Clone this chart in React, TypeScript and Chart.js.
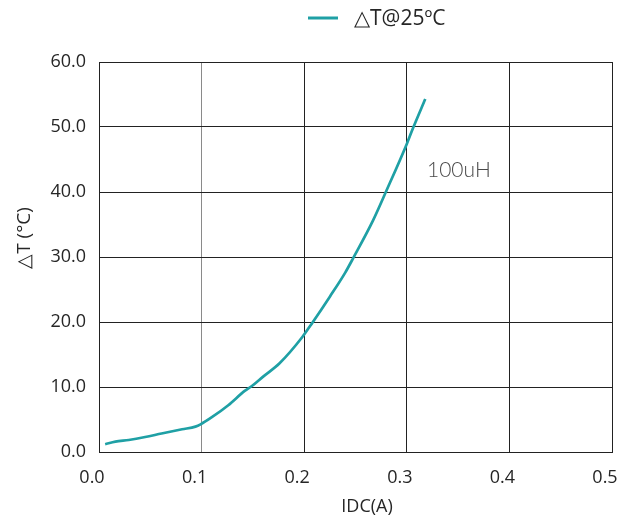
import React, { useEffect, useRef } from "react";
import { Chart, registerables } from "chart.js";

Chart.register(...registerables);

// Series data
const currentA = [
  0.006, 0.016, 0.029, 0.045, 0.061, 0.081, 0.094, 0.099, 0.11, 0.126, 0.142,
  0.149, 0.16, 0.176, 0.198, 0.208, 0.225, 0.24, 0.248, 0.267, 0.28, 0.3,
  0.306, 0.318,
];
const deltaT = [
  1.2, 1.6, 1.85, 2.3, 2.85, 3.5, 3.9, 4.25, 5.35, 7.2, 9.4, 10.15, 11.6, 13.65,
  17.65, 19.9, 23.9, 27.6, 29.9, 35.6, 40.15, 47.4, 49.8, 54.3,
];

const xTicks = [0, 0.1, 0.2, 0.3, 0.4, 0.5];
const yTicks = [0, 10, 20, 30, 40, 50, 60];

const seriesLabel = "△T@25ºC";
const xTitle = "IDC(A)";
const yTitle = "△T (°C)";
const noteText = "100uH";

const TEAL = "#1fa0a5";
const INK = "#262626";
const GRID = "#222222";

export default function App() {
  const ref = useRef<HTMLCanvasElement>(null);

  useEffect(() => {
    document.body.style.margin = "0";
    const canvas = ref.current;
    if (!canvas) return;

    const overlay = {
      id: "overlay",
      afterDraw(chart: any) {
        const ctx = chart.ctx as CanvasRenderingContext2D;
        ctx.save();
        // legend
        ctx.strokeStyle = TEAL;
        ctx.lineWidth = 3;
        ctx.beginPath();
        ctx.moveTo(308, 18);
        ctx.lineTo(338, 18);
        ctx.stroke();
        ctx.fillStyle = INK;
        ctx.font = '21px "Open Sans"';
        ctx.textAlign = "left";
        ctx.textBaseline = "middle";
        ctx.fillText(seriesLabel, 354, 19);

        // x title
        ctx.font = '18px "Open Sans"';
        ctx.textAlign = "center";
        ctx.textBaseline = "middle";
        ctx.fillText(xTitle, 367, 507);

        // y title
        ctx.save();
        ctx.translate(25, 238);
        ctx.rotate(-Math.PI / 2);
        ctx.font = '19px "Open Sans"';
        ctx.fillText(yTitle, 0, 0);
        ctx.restore();

        // annotation
        ctx.fillStyle = "#4a4a4a";
        ctx.font = '300 21px "Lato"';
        ctx.textAlign = "left";
        ctx.fillText(noteText, 427, 170);
        ctx.restore();
      },
    };

    const chart = new Chart(canvas, {
      type: "line",
      data: {
        datasets: [
          {
            label: seriesLabel,
            data: currentA.map((x, i) => ({ x, y: deltaT[i] })),
            borderColor: TEAL,
            backgroundColor: TEAL,
            borderWidth: 2.7,
            pointRadius: 0,
            cubicInterpolationMode: "monotone",
            fill: false,
          },
        ],
      },
      options: {
        animation: false,
        responsive: false,
        maintainAspectRatio: false,
        layout: { padding: { top: 62, right: 20, left: 0, bottom: 0 } },
        plugins: {
          legend: { display: false },
          tooltip: { enabled: false },
        },
        scales: {
          x: {
            type: "linear",
            min: 0,
            max: 0.5,
            afterBuildTicks: (s: any) => {
              s.ticks = xTicks.map((v) => ({ value: v }));
            },
            afterFit: (s: any) => {
              s.height = 67;
              s.paddingLeft = 0;
              s.paddingRight = 0;
            },
            grid: {
              color: (c: any) => (c.index === 1 ? "#8a8a8a" : GRID),
              lineWidth: 1,
              drawTicks: false,
            },
            border: { color: GRID, width: 1 },
            ticks: {
              padding: 15,
              labelOffset: -7,
              autoSkip: false,
              maxRotation: 0,
              color: INK,
              font: { family: '"Open Sans"', size: 18 },
              callback: (v: any) => Number(v).toFixed(1),
            },
          },
          y: {
            type: "linear",
            min: 0,
            max: 60,
            afterBuildTicks: (s: any) => {
              s.ticks = yTicks.map((v) => ({ value: v }));
            },
            afterFit: (s: any) => {
              s.width = 99;
              s.paddingTop = 0;
              s.paddingBottom = 0;
            },
            grid: { color: GRID, lineWidth: 1, drawTicks: false },
            border: { color: GRID, width: 1 },
            ticks: {
              padding: 13,
              autoSkip: false,
              color: INK,
              font: { family: '"Open Sans"', size: 18 },
              callback: (v: any) => Number(v).toFixed(1),
            },
          },
        },
      },
      plugins: [overlay],
    });

    return () => chart.destroy();
  }, []);

  return (
    <canvas
      ref={ref}
      width={632}
      height={519}
      style={{ display: "block", width: 632, height: 519 }}
    />
  );
}
